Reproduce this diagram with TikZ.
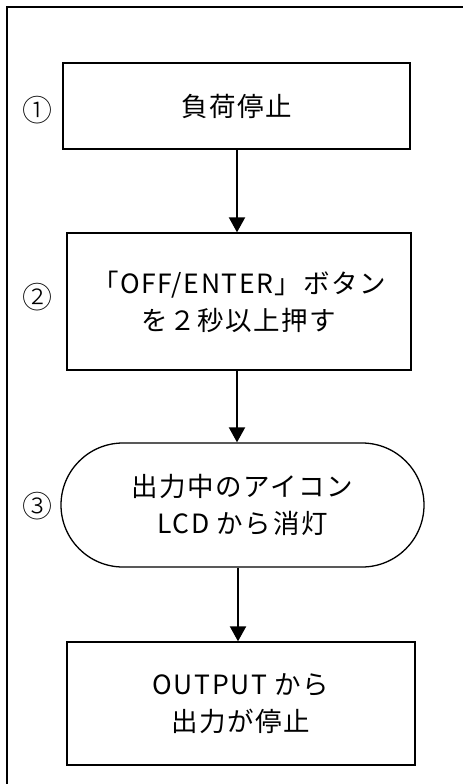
\documentclass[tikz,border=0pt]{standalone}
\usepackage{fontspec}
\setmainfont{Noto Sans CJK JP}
\newfontfamily\jpfont[LetterSpace=6]{Noto Sans CJK JP}
\newfontfamily\circfont{Noto Sans CJK JP Light}
\usetikzlibrary{arrows.meta,shapes.misc}
\begin{document}
\begin{tikzpicture}[x=1pt,y=-1pt,
  stepbox/.style={draw,line width=1.3pt,inner sep=0pt,font=\fontsize{26.5}{37}\selectfont\jpfont,align=center},
  termbox/.style={draw,line width=1.3pt,rounded rectangle,inner sep=0pt,font=\fontsize{26.5}{37}\selectfont\jpfont,align=center},
  numlbl/.style={font=\fontsize{30}{32}\selectfont\circfont},
  flow/.style={line width=2pt,-{Triangle[length=15pt,width=16pt]}}]
\useasboundingbox (0,0) rectangle (463,784);
\fill[white] (0,0) rectangle (463,784);
\draw[line width=2.5pt] (7,784) -- (7,7) -- (463,7);
\node[stepbox,minimum width=347pt,minimum height=86pt] (s1) at (236.5,106) {負荷停止};
\node[stepbox,minimum width=344pt,minimum height=137pt] (s2) at (239,301.5) {「OFF/ENTER」ボタン\\を２秒以上押す};
\node[termbox,minimum width=363pt,minimum height=124pt] (s3) at (242.5,505) {出力中のアイコン\\LCD から消灯};
\node[stepbox,minimum width=348pt,minimum height=123pt] (s4) at (241,703.5) {OUTPUT から\\出力が停止};
\node[numlbl] (n1) at (38,110) {①};
\node[numlbl] (n2) at (38,297) {②};
\node[numlbl] (n3) at (38,506) {③};
\draw[flow] (s1.south -| 237,0) -- (s2.north -| 237,0);
\draw[flow] (s2.south -| 237,0) -- (s3.north -| 237,0);
\draw[flow] (s3.south -| 238,0) -- (s4.north -| 238,0);
\end{tikzpicture}
\end{document}
